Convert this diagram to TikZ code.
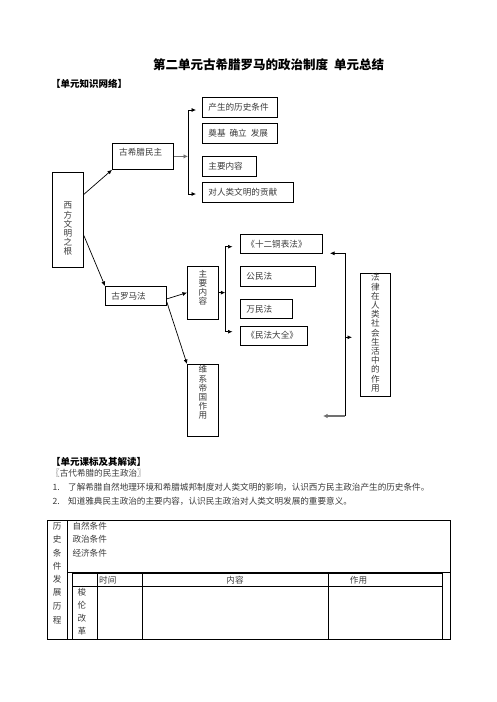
\documentclass[tikz,border=0pt]{standalone}
\usepackage{fontspec}
\setmainfont{Noto Sans CJK SC}
\usepackage{tikz}
\usetikzlibrary{arrows.meta}
\definecolor{ink}{HTML}{3A3A3A}
\definecolor{border}{HTML}{000000}
\definecolor{fade}{HTML}{707070}
\newcommand\boxfont{\fontsize{8.6pt}{9.2pt}\selectfont}
\newcommand\headfont{\fontsize{9.5pt}{11pt}\selectfont\bfseries}
\newcommand\titlefont{\fontsize{12.5pt}{14pt}\selectfont\bfseries}
\tikzset{
  box/.style={draw=border, line width=0.8pt, anchor=north west, inner xsep=6pt, inner ysep=0pt, align=left, font=\boxfont, text=ink},
  vbox/.style={draw=border, line width=0.8pt, anchor=north west, inner sep=0pt, minimum width=31pt},
  vlab/.style={align=center, inner sep=0pt, font=\boxfont, text=ink},
  lab/.style={anchor=west, inner sep=0pt, font=\boxfont, text=ink},
  head/.style={anchor=west, inner sep=0pt, font=\headfont, text=black},
  link/.style={draw=border, line width=0.7pt},
  con/.style={link, -{Latex[length=4.5pt,width=4pt]}},
  conf/.style={draw=fade, line width=1.5pt, -{Latex[length=4.5pt,width=4.5pt]}},
  grid/.style={draw=border, line width=0.7pt},
}
\begin{document}
\begin{tikzpicture}[x=1pt, y=-1pt]
\useasboundingbox (0,0) rectangle (496,702);

\node[font=\titlefont, inner sep=0pt] (title) at (268.5,65) {第二单元古希腊罗马的政治制度\hspace{6pt}单元总结};
\node[head] (net) at (51,84) {【单元知识网络】};

\node[vbox, minimum height=95pt] (root) at (52,172) {};
\node[vlab] (roottxt) at ([yshift=-9pt]root.center) {西\\方\\文\\明\\之\\根};

\node[box, minimum height=26pt, text width=49pt] (greek) at (112,143) {};
\node[lab] (greektxt) at (119,152.7) {古希腊民主};
\node[box, minimum height=20pt, text width=63pt] (cond) at (202,97) {产生的历史条件};
\node[box, minimum height=20pt, text width=63pt] (stage) at (202,123) {奠基\hspace{4pt}确立\hspace{4pt}发展};
\node[box, minimum height=19.5pt, text width=42pt] (gcont) at (202,156) {主要内容};
\node[box, minimum height=19.5pt, text width=79pt] (contrib) at (202,182) {对人类文明的贡献};

\node[box, minimum height=19pt, text width=49pt] (roman) at (105,286) {古罗马法};
\node[vbox, minimum height=52.5pt] (rcont) at (187,266) {};
\node[vlab] (rconttxt) at ([yshift=5pt]rcont.center) {主\\要\\内\\容};
\node[vbox, minimum height=71.5pt] (empire) at (187,364) {};
\node[vlab] (empiretxt) at ([yshift=7.5pt]empire.center) {维\\系\\帝\\国\\作\\用};
\node[box, minimum height=19pt, text width=70pt] (tables) at (240,234) {《十二铜表法》};
\node[box, minimum height=20pt, text width=63pt] (civil) at (240,266) {公民法};
\node[box, minimum height=19pt, text width=40pt] (gentium) at (240,299) {万民法};
\node[box, minimum height=18.5pt, text width=55pt] (corpus) at (240,326) {《民法大全》};
\node[vbox, minimum width=30pt, minimum height=123pt] (role) at (360,273) {};
\node[vlab] (roletxt) at ([yshift=2pt]role.center) {法\\律\\在\\人\\类\\社\\会\\生\\活\\中\\的\\作\\用};

\draw[con] ([yshift=25.5pt]root.east) -- (greek.south west);
\draw[con] ([yshift=-15.5pt]root.east) -- (roman.north west);

\coordinate (b1t) at (188,110);
\coordinate (b1b) at (188,194);
\coordinate (b1ta) at (196,110);
\coordinate (b1ba) at (196,194);
\draw[link] (b1t) -- (b1b);
\draw[con] (b1t) -- (b1ta);
\draw[con] (b1b) -- (b1ba);
\draw[conf] (greek.east) -- (greek.east -| b1t);

\draw[con] ([yshift=-3pt]roman.east) -- (rcont.west);
\draw[con] ([yshift=-6pt]roman.east) -- (empire.north west);

\coordinate (b2t) at (225.3,246.7);
\coordinate (b2b) at (225.3,331.7);
\coordinate (b2ta) at (232.5,246.7);
\coordinate (b2ba) at (232.5,331.7);
\draw[link] (b2t) -- (b2b);
\draw[con] (b2t) -- (b2ta);
\draw[con] (b2b) -- (b2ba);
\draw[con] (rcont.east) -- (rcont.east -| b2t);

\coordinate (b3t) at (345,253.3);
\coordinate (b3b) at (345,416);
\coordinate (b3m) at (345,337.3);
\coordinate (b3ta) at (330,253.3);
\coordinate (b3ba) at (323,416);
\coordinate (b3ma) at (352,337.3);
\draw[link] (b3t) -- (b3b);
\draw[con] (b3t) -- (b3ta);
\draw[conf] (b3b) -- (b3ba);
\draw[con] (b3m) -- (b3ma);

\node[head] (std) at (51,461.7) {【单元课标及其解读】};
\node[lab] (topic) at (51,473.3) {〖古代希腊的民主政治〗};
\node[lab] (goal1) at (52.5,487.7) {\makebox[15.5pt][l]{1.}了解希腊自然地理环境和希腊城邦制度对人类文明的影响，认识西方民主政治产生的历史条件。};
\node[lab] (goal2) at (52.5,501) {\makebox[15.5pt][l]{2.}知道雅典民主政治的主要内容，认识民主政治对人类文明发展的重要意义。};

\draw[grid] (47.3,520) rectangle (450,639);
\draw[grid] (67.7,520) -- (67.7,639);
\draw[grid, line width=1.5pt] (67.7,572.6) -- (450,572.6);
\draw[grid] (72,573.6) rectangle (442.7,639);
\draw[grid] (72,586.3) -- (442.7,586.3);
\foreach \x in {97,142.3,328.7}
  \draw[grid] (\x,573.6) -- (\x,639);

\foreach \c [count=\i] in {历,史,条,件}
  \node[lab] (hist\i) at (52.7,{526+13.5*(\i-1)}) {\c};
\foreach \c [count=\i] in {自然条件,政治条件,经济条件}
  \node[lab] (fact\i) at (72.3,{526+13.5*(\i-1)}) {\c};
\foreach \c [count=\i] in {发,展,历,程}
  \node[lab] (dev\i) at (52.7,{579.3+13.5*(\i-1)}) {\c};
\foreach \c [count=\i] in {梭,伦,改,革}
  \node[lab] (solon\i) at (77.3,{591.7+13.1*(\i-1)}) {\c};
\node[lab] (time) at (99,580) {时间};
\node[lab, anchor=center] (content) at (235,580) {内容};
\node[lab, anchor=center] (effect) at (358.5,580) {作用};
\end{tikzpicture}
\end{document}
